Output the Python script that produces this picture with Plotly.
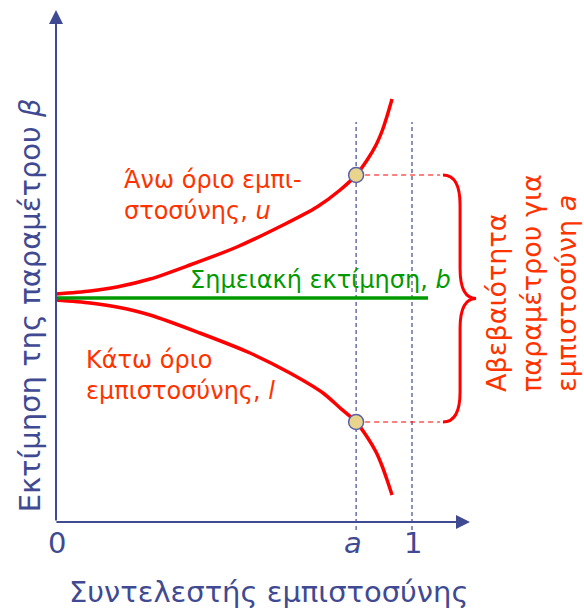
import plotly.graph_objects as go

# ---------------- data ----------------
conf_upper = [0.0, 0.096, 0.171, 0.264, 0.376, 0.508, 0.638, 0.733, 0.798, 0.843,
              0.874, 0.899, 0.916, 0.930, 0.944]
beta_upper = [0.04, 0.07, 0.11, 0.19, 0.33, 0.51, 0.73, 0.91, 1.08, 1.23,
              1.38, 1.53, 1.67, 1.82, 1.99]
conf_lower = [0.0, 0.096, 0.171, 0.264, 0.404, 0.545, 0.657, 0.75, 0.798, 0.843,
              0.874, 0.899, 0.916, 0.930, 0.944]
beta_lower = [-0.02, -0.05, -0.09, -0.17, -0.35, -0.55, -0.75, -0.95, -1.10, -1.24,
              -1.39, -1.54, -1.68, -1.82, -1.97]
point_estimate = 0.0
estimate_span = [0.0, 1.045]
conf_a = 0.843
conf_one = 1.0
upper_at_a = 1.23
lower_at_a = -1.24
tick_labels = ["0", "<i>a</i>", "1"]
tick_values = [0.0, conf_a, conf_one]

# ---------------- styles ----------------
NAVY = "#3F4A92"
RED = "#FF0000"
RED_TXT = "#FF3300"
GREEN = "#009A00"
FONT = "DejaVu Sans"

fig = go.Figure()

# confidence bounds
fig.add_trace(go.Scatter(x=conf_upper, y=beta_upper, mode="lines",
                         line=dict(color=RED, width=3.5, shape="spline", smoothing=0.8), hoverinfo="skip"))
fig.add_trace(go.Scatter(x=conf_lower, y=beta_lower, mode="lines",
                         line=dict(color=RED, width=3.5, shape="spline", smoothing=0.8), hoverinfo="skip"))
# point estimate
fig.add_trace(go.Scatter(x=estimate_span, y=[point_estimate] * 2, mode="lines",
                         line=dict(color=GREEN, width=3.5), hoverinfo="skip"))
# marked bounds at confidence a
fig.add_trace(go.Scatter(x=[conf_a, conf_a], y=[upper_at_a, lower_at_a], mode="markers",
                         marker=dict(size=15, color="#E8D48C", line=dict(color="#5A60A8", width=1.5)),
                         hoverinfo="skip"))

shapes = []
# vertical dashed guides at a and 1
for xv in [conf_a, conf_one]:
    shapes.append(dict(type="line", xref="x", yref="y", x0=xv, x1=xv, y0=-2.32, y1=1.76,
                       line=dict(color=NAVY, width=1.2, dash="4px,3px"), layer="below"))
# red dashed horizontals from dots to the brace
brace_x0, brace_xs, brace_xt = 1.087, 1.135, 1.18
for yv in [upper_at_a, lower_at_a]:
    shapes.append(dict(type="line", xref="x", yref="y", x0=conf_a, x1=1.079, y0=yv, y1=yv,
                       line=dict(color=RED, width=1.2, dash="5px,4px"), layer="below"))
# curly brace
ym = (upper_at_a + lower_at_a) / 2
d = 0.3
path = (f"M {brace_x0},{upper_at_a} Q {brace_xs},{upper_at_a} {brace_xs},{upper_at_a - d} "
        f"L {brace_xs},{ym + d} Q {brace_xs},{ym} {brace_xt},{ym} "
        f"Q {brace_xs},{ym} {brace_xs},{ym - d} "
        f"L {brace_xs},{lower_at_a + d} Q {brace_xs},{lower_at_a} {brace_x0},{lower_at_a}")
shapes.append(dict(type="path", xref="x", yref="y", path=path,
                   line=dict(color=RED, width=3)))

annotations = []
# axes with arrowheads
annotations.append(dict(x=0, y=2.88, ax=0, ay=-2.24, xref="x", yref="y", axref="x", ayref="y",
                        showarrow=True, arrowhead=2, arrowsize=1.4, arrowwidth=2,
                        arrowcolor=NAVY, text=""))
annotations.append(dict(x=1.163, y=-2.24, ax=-0.003, ay=-2.24, xref="x", yref="y", axref="x", ayref="y",
                        showarrow=True, arrowhead=2, arrowsize=1.4, arrowwidth=2,
                        arrowcolor=NAVY, text=""))
# tick labels
for tv, tl in zip(tick_values, tick_labels):
    annotations.append(dict(x=tv, y=-2.45, xref="x", yref="y", text=tl, showarrow=False,
                            xshift=-3 if tl.startswith("<i>") else 1,
                            font=dict(family=FONT, size=29, color=NAVY)))
# axis titles
annotations.append(dict(x=0.598, y=-2.94, xref="x", yref="y", text="Συντελεστής εμπιστοσύνης",
                        showarrow=False, font=dict(family=FONT, size=29, color=NAVY)))
annotations.append(dict(x=-0.072, y=-0.07, xref="x", yref="y", text="Εκτίμηση της παραμέτρου <i>β</i>",
                        showarrow=False, textangle=-90, font=dict(family=FONT, size=29, color=NAVY)))
# curve labels
annotations.append(dict(x=0.185, y=1.03, xref="x", yref="y", xanchor="left", align="left",
                        text="Άνω όριο εμπι-<br>στοσύνης, <i>u</i>", showarrow=False,
                        font=dict(family=FONT, size=24, color=RED_TXT)))
annotations.append(dict(x=0.079, y=-0.77, xref="x", yref="y", xanchor="left", align="left",
                        text="Κάτω όριο<br>εμπιστοσύνης, <i>l</i>", showarrow=False,
                        font=dict(family=FONT, size=24, color=RED_TXT)))
annotations.append(dict(x=0.371, y=0.18, xref="x", yref="y", xanchor="left",
                        text="Σημειακή εκτίμηση, <i>b</i>", showarrow=False,
                        font=dict(family=FONT, size=24, color=GREEN)))
annotations.append(dict(x=1.334, y=-0.96, xref="x", yref="y", yanchor="bottom", align="left",
                        text="Αβεβαιότητα<br>παραμέτρου για<br>εμπιστοσύνη <i>a</i>",
                        showarrow=False, textangle=-90,
                        font=dict(family=FONT, size=27, color=RED_TXT)))

fig.update_layout(
    width=584, height=613, margin=dict(l=0, r=0, t=0, b=0),
    paper_bgcolor="white", plot_bgcolor="white", showlegend=False,
    xaxis=dict(range=[-56 / 356, 528 / 356], visible=False, fixedrange=True),
    yaxis=dict(range=[-3.15, 2.98], visible=False, fixedrange=True),
    shapes=shapes, annotations=annotations,
)

fig.write_html("out.html", config={"displayModeBar": False},
               post_script="document.body.style.margin='0';")
